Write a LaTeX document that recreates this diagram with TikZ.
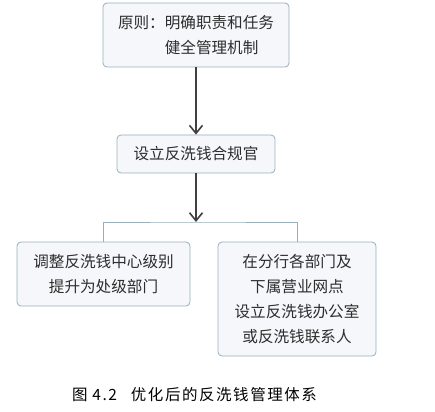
\documentclass[tikz,border=0pt]{standalone}
\usepackage{fontspec}
\setmainfont{Noto Sans CJK SC}
\usetikzlibrary{arrows.meta,positioning}
\definecolor{boxline}{RGB}{150,175,185}
\definecolor{boxfill}{RGB}{245,247,250}
\definecolor{arrowgray}{RGB}{64,64,64}
\definecolor{textgray}{RGB}{45,45,45}
\tikzset{
    stage/.style={rectangle, rounded corners=4pt, draw=boxline, fill=boxfill, line width=0.8pt, font=\fontsize{15.6}{25}\selectfont, text=textgray, align=center, inner sep=0pt},
    flow/.style={-{Straight Barb[length=8pt,width=13pt,line width=1.6pt]}, line width=2.2pt, draw=arrowgray},
    branch/.style={line width=0.9pt, draw=boxline},
    caption/.style={font=\fontsize{15.5}{17}\selectfont\addfontfeature{LetterSpace=10}, text=black},
}

\begin{document}
\begin{tikzpicture}[x=1pt,y=-1pt]
    \useasboundingbox (0,0) rectangle (435,411);
    \node[stage, minimum width=186pt, minimum height=64pt, align=left] (rule) at (196,35)
        {原则：明确职责和任务\\\hphantom{原则：}健全管理机制};
    \node[stage, minimum width=158pt, minimum height=38pt] (officer) at (196,154) {设立反洗钱合规官};
    \node[stage, minimum width=173pt, minimum height=64pt] (center) at (103.5,274)
        {调整反洗钱中心级别\\提升为处级部门};
    \node[stage, minimum width=158pt, minimum height=114pt] (office) at (297,299)
        {在分行各部门及\\下属营业网点\\设立反洗钱办公室\\或反洗钱联系人};
    \coordinate (split) at (196,222);
    \draw[flow] (rule.south) -- (officer.north);
    \draw[flow] (officer.south) -- (split);
    \draw[branch] (center.north) |- (split) -| (office.north);
    \node[caption, anchor=west, inner sep=0pt] (cap) at (72,395)
        {图\hspace{0.3em}4.\hspace{0.1em}2\hspace{0.9em}优化后的反洗钱管理体系};
\end{tikzpicture}
\end{document}
